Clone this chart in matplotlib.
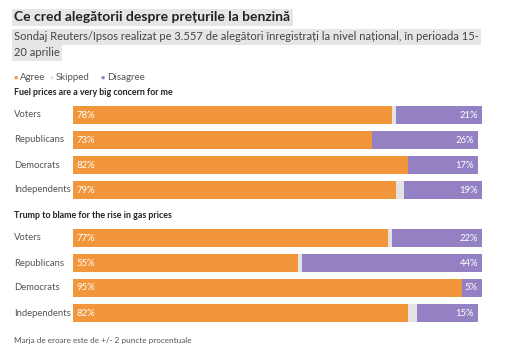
import matplotlib.pyplot as plt
import numpy as np

plt.rcParams['font.family'] = ['Lato', 'DejaVu Sans']

groups = ['Voters', 'Republicans', 'Democrats', 'Independents']

fuel_agree = [78, 73, 82, 79]
fuel_skipped = [1, 0, 0, 2]
fuel_disagree = [21, 26, 17, 19]

trump_agree = [77, 55, 95, 82]
trump_skipped = [1, 1, 0, 2]
trump_disagree = [22, 44, 5, 15]

panel_titles = ['Fuel prices are a very big concern for me',
                'Trump to blame for the rise in gas prices']

ORANGE = '#F2963B'
GREY = '#E3E3E3'
PURPLE = '#9481C3'
TEXT = '#555555'

W, H = 525, 350
fig = plt.figure(figsize=(W / 100, H / 100), dpi=100)


def px(x, y):
    return x / W, 1 - y / H


# title + subtitle with grey highlight
fig.text(*px(14, 17), 'Ce cred alegătorii despre prețurile la benzină', fontsize=10,
         fontweight='bold', color='#222222', va='center',
         bbox=dict(facecolor='#E6E6E6', edgecolor='none', pad=1.8))
fig.text(*px(14, 37), 'Sondaj Reuters/Ipsos realizat pe 3.557 de alegători înregistrați la nivel național, în perioada 15-',
         fontsize=8.0, color='#444444', va='center',
         bbox=dict(facecolor='#E6E6E6', edgecolor='none', pad=1.5))
fig.text(*px(14, 53), '20 aprilie', fontsize=8.0, color='#444444', va='center',
         bbox=dict(facecolor='#E6E6E6', edgecolor='none', pad=1.5))

# legend
lx = [14, 50, 101]
for x0, lab, c in zip(lx, ['Agree', 'Skipped', 'Disagree'], [ORANGE, GREY, PURPLE]):
    fig.text(*px(x0, 77), '●', color=c, fontsize=5, va='center')
    fig.text(*px(x0 + 6, 77), lab, color=TEXT, fontsize=7, va='center')


def panel(top, title, agree, skipped, disagree):
    fig.text(*px(14, top - 10), title, fontsize=6.4, fontweight='bold', color='#222222', va='center')
    x0, x1 = 73, 482
    ax = fig.add_axes([x0 / W, 1 - (top + 100) / H, (x1 - x0) / W, 100 / H])
    y = np.arange(len(groups))
    a = np.array(agree)
    s = np.array(skipped)
    d = np.array(disagree)
    ax.barh(y, a, height=0.7, color=ORANGE)
    ax.barh(y, s, left=a, height=0.7, color=GREY)
    ax.barh(y, d, left=a + s, height=0.7, color=PURPLE)
    for i in range(len(groups)):
        ax.text(0.8, y[i], f'{a[i]}%', color='white', fontsize=6.8, va='center')
        ax.text(a[i] + s[i] + d[i] - 1, y[i], f'{d[i]}%', color='white', fontsize=6.8,
                va='center', ha='right')
        fig.text(*px(14, top + 12.5 + 25 * i), groups[i], color=TEXT, fontsize=6.8, va='center')
    ax.set_xlim(0, 100)
    ax.set_ylim(3.5, -0.5)
    ax.axis('off')


panel(102.5, panel_titles[0], fuel_agree, fuel_skipped, fuel_disagree)
panel(225.5, panel_titles[1], trump_agree, trump_skipped, trump_disagree)

fig.text(*px(14, 341), 'Marja de eroare este de +/- 2 puncte procentuale', fontsize=5.9, color=TEXT, va='center')

fig.savefig('out.png', dpi=100, facecolor='white')
